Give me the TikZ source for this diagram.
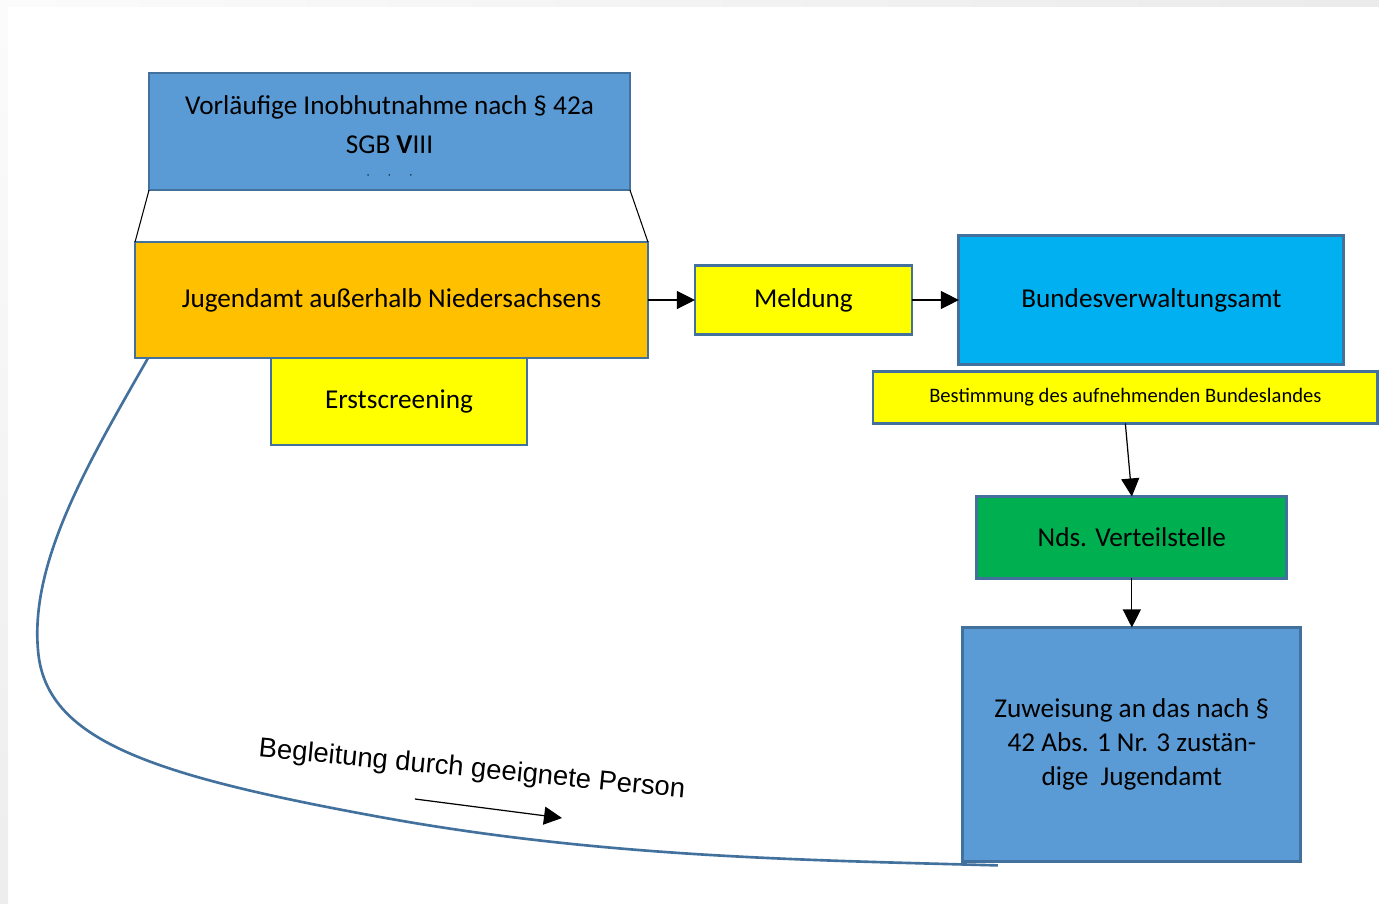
\documentclass[tikz,border=0pt]{standalone}
\usepackage{fontspec}
\setmainfont{Carlito}
\newfontfamily\arialfont{Liberation Sans}
\usepackage{tikz}
\usetikzlibrary{arrows.meta, positioning}

\definecolor{boxline}{HTML}{41719C}
\definecolor{steelblue}{HTML}{5B9BD5}
\definecolor{amber}{HTML}{FFC000}
\definecolor{signal}{HTML}{FFFF00}
\definecolor{skyblue}{HTML}{00B0F0}
\definecolor{leafgreen}{HTML}{00B050}

\begin{document}
\begin{tikzpicture}[
  x=0.02cm, y=-0.02cm,
  box/.style={rectangle, draw=boxline, line width=1.6pt, outer sep=0pt,
             align=center, inner sep=4pt, font=\fontsize{15.5}{19.5}\selectfont},
  bluebox/.style={box, fill=steelblue},
  amberbox/.style={box, fill=amber},
  yellowbox/.style={box, fill=signal},
  skybox/.style={box, fill=skyblue},
  greenbox/.style={box, fill=leafgreen},
  arrow/.style={-{Triangle[length=3.6mm, width=3.6mm]}, line width=0.7pt, color=black},
  thinline/.style={line width=0.6pt, color=black},
  route/.style={line width=1.5pt, color=boxline},
  routelabel/.style={font=\arialfont\fontsize{15.6}{18}\selectfont, inner sep=0pt}
]

% page frame
\fill[white] (0,0) rectangle (1379,903);
\shade[left color=gray!3, right color=gray!16] (0,0) rectangle (1379,6);
\shade[top color=gray!3, bottom color=gray!14] (0,6) rectangle (8,903);
\useasboundingbox (0,0) rectangle (1379,903);

% left column
\node[amberbox, minimum width=10.26cm, minimum height=2.32cm] (jug) at (391.5,300)
  {Jugendamt außerhalb Niedersachsens};
\node[bluebox, minimum width=9.62cm, minimum height=2.34cm,
      font=\fontsize{15.5}{22}\selectfont, above=1.04cm of jug, xshift=-0.04cm] (vorl) {%
  \rule{0pt}{17pt}Vorläufige Inobhutnahme nach § 42a\\
  SGB \textbf{V}III\\[-8pt]
  {\fontsize{7}{7}\selectfont $\cdot$\hspace{1.4em}$\cdot$\hspace{1.4em}$\cdot$}
};
\node[yellowbox, minimum width=5.12cm, minimum height=1.74cm,
      below=0pt of jug.south, xshift=0.15cm] (erst) {Erstscreening};

% right column
\node[yellowbox, minimum width=4.34cm, minimum height=1.38cm, right=0.94cm of jug] (meld) {Meldung};
\node[skybox, minimum width=7.7cm, minimum height=2.58cm, right=0.94cm of meld] (bva) {Bundesverwaltungsamt};
\node[yellowbox, minimum width=10.1cm, minimum height=1.04cm,
      font=\fontsize{11.7}{13}\selectfont, below=0.14cm of bva, xshift=-0.52cm] (best)
  {Bestimmung des aufnehmenden Bundeslandes};
\node[greenbox, minimum width=6.2cm, minimum height=1.64cm,
      below=1.46cm of best, xshift=0.13cm] (nds) {Nds. Verteilstelle};
\node[bluebox, minimum width=6.76cm, minimum height=4.68cm, below=0.98cm of nds] (zuw) {%
  Zuweisung an das nach §\\
  42 Abs. 1 Nr. 3 zustän-\\
  dige~ Jugendamt
};

% connectors
\draw[thinline] (vorl.south west) -- (jug.north west);
\draw[thinline] (vorl.south east) -- (jug.north east);
\draw[arrow] (jug.east) -- (meld.west);
\draw[arrow] (meld.east) -- (bva.west);
\draw[arrow] (best.south) -- (nds.north);
\draw[arrow] (nds.south) -- (zuw.north);

% way back
\coordinate (routestart) at ([xshift=0.7cm, yshift=-0.08cm]zuw.south west);
\coordinate (routeend) at ([xshift=0.26cm]jug.south west);
\draw[route] (routestart) .. controls (800,860) and (600,857) .. (380,817)
  .. controls (150,775) and (45,740) .. (38,650)
  .. controls (30,560) and (90,460) .. (routeend);
\node[routelabel, rotate=-5.5] (begl) at (472,770) {Begleitung durch geeignete Person};
\coordinate (beglfrom) at (415,799);
\coordinate (beglto) at (562,818);
\draw[arrow] (beglfrom) -- (beglto);

\end{tikzpicture}
\end{document}
